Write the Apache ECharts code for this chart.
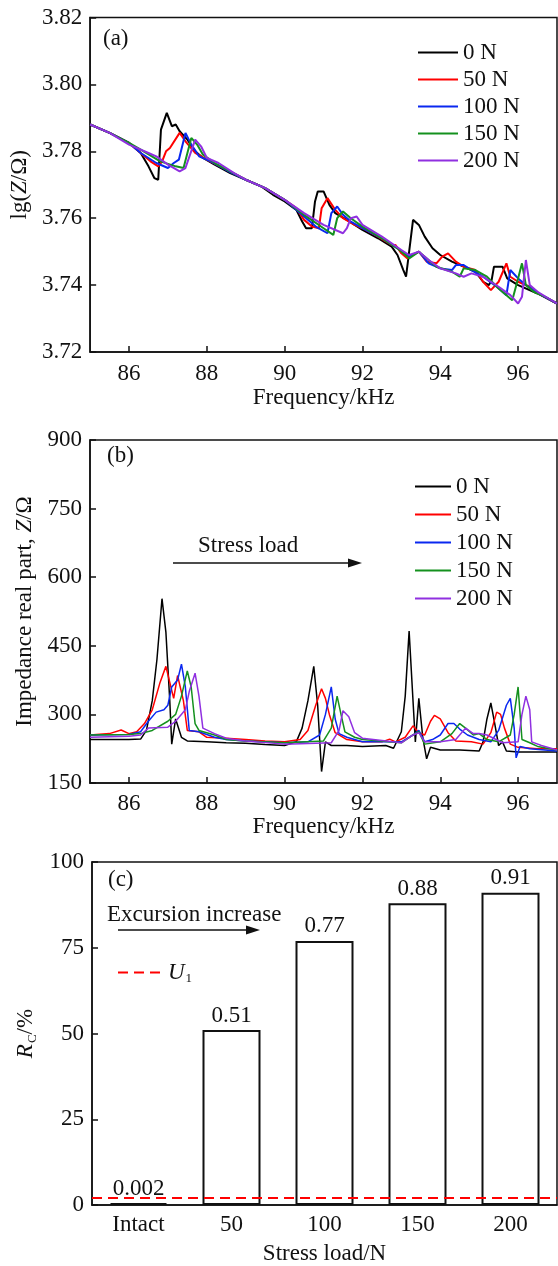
<!DOCTYPE html>
<html>
<head>
<meta charset="utf-8">
<script src="https://cdn.jsdelivr.net/npm/echarts@6/dist/echarts.min.js"></script>
<style>
  html, body { margin: 0; padding: 0; background: #fff; }
  #main { width: 558px; height: 1266px; }
</style>
</head>
<body>
<div id="main"></div>
<script>
// legend names shared by panels (a) and (b)
const loadNames = ['0 N', '50 N', '100 N', '150 N', '200 N'];
const loadColors = ['#000000', '#ff0000', '#0a28f0', '#14911e', '#9030e0'];

// (a) lg(Z/Ω) vs frequency (kHz)
const lg0 = [[85,3.788],[85.5,3.7855],[86,3.7825],[86.3,3.7795],[86.5,3.7755],[86.65,3.772],[86.75,3.7715],[86.82,3.7865],[86.97,3.7915],[87.1,3.7875],[87.2,3.788],[87.3,3.786],[87.5,3.7835],[87.7,3.780],[87.9,3.778],[88.2,3.776],[88.6,3.7735],[89.0,3.7715],[89.4,3.7695],[89.7,3.767],[90.0,3.765],[90.3,3.7625],[90.45,3.759],[90.55,3.757],[90.7,3.757],[90.78,3.765],[90.85,3.768],[91.0,3.768],[91.15,3.764],[91.3,3.7615],[91.6,3.7595],[92.0,3.7565],[92.4,3.754],[92.75,3.7515],[92.9,3.749],[93.05,3.7445],[93.12,3.7425],[93.3,3.7595],[93.45,3.758],[93.6,3.7545],[93.8,3.751],[94.0,3.749],[94.3,3.747],[94.6,3.7455],[94.9,3.744],[95.1,3.741],[95.25,3.740],[95.32,3.7415],[95.38,3.7455],[95.6,3.7455],[95.72,3.742],[96.0,3.740],[96.5,3.7375],[97,3.7345]];
const lg50 = [[85,3.788],[85.5,3.7855],[86,3.7825],[86.3,3.7795],[86.55,3.777],[86.75,3.7755],[86.85,3.777],[86.95,3.780],[87.05,3.781],[87.3,3.7855],[87.45,3.783],[87.7,3.7795],[88.0,3.7775],[88.5,3.7745],[89.0,3.7715],[89.5,3.769],[90.0,3.7655],[90.3,3.763],[90.5,3.7595],[90.7,3.7575],[90.88,3.757],[90.95,3.763],[91.1,3.766],[91.3,3.7625],[91.5,3.760],[91.8,3.758],[92.0,3.757],[92.4,3.7545],[92.75,3.752],[92.85,3.752],[93.0,3.7495],[93.15,3.748],[93.3,3.749],[93.45,3.750],[93.65,3.747],[93.9,3.7465],[94.05,3.7485],[94.2,3.7495],[94.4,3.747],[94.6,3.7455],[94.9,3.7445],[95.1,3.741],[95.3,3.7385],[95.5,3.741],[95.7,3.7465],[95.8,3.7425],[96.0,3.741],[96.3,3.7395],[96.6,3.737],[97,3.7345]];
const lg100 = [[85,3.788],[85.5,3.7855],[86,3.7825],[86.3,3.7795],[86.7,3.7765],[87.0,3.775],[87.15,3.7765],[87.28,3.7775],[87.45,3.7855],[87.6,3.782],[87.8,3.7785],[88.1,3.777],[88.6,3.7738],[89.0,3.7715],[89.5,3.769],[90.0,3.7655],[90.5,3.7605],[90.8,3.7575],[91.1,3.7555],[91.2,3.7615],[91.35,3.7635],[91.5,3.761],[91.7,3.759],[92.0,3.757],[92.5,3.754],[92.9,3.751],[93.2,3.7485],[93.45,3.750],[93.7,3.7465],[94.0,3.745],[94.3,3.7445],[94.4,3.746],[94.6,3.746],[94.8,3.7445],[95.1,3.7425],[95.4,3.740],[95.7,3.737],[95.8,3.7445],[96.0,3.742],[96.2,3.740],[96.6,3.737],[97,3.7345]];
const lg150 = [[85,3.788],[85.5,3.7855],[86,3.7825],[86.3,3.7805],[86.8,3.777],[87.2,3.7755],[87.4,3.775],[87.6,3.784],[87.75,3.782],[87.9,3.779],[88.2,3.7765],[88.6,3.774],[89.0,3.7715],[89.5,3.769],[90.0,3.7655],[90.5,3.761],[91.0,3.757],[91.25,3.755],[91.35,3.760],[91.5,3.762],[91.7,3.760],[92.0,3.7575],[92.5,3.754],[92.9,3.751],[93.2,3.748],[93.45,3.750],[93.9,3.7455],[94.3,3.744],[94.5,3.7425],[94.6,3.745],[94.9,3.7445],[95.2,3.7425],[95.5,3.739],[95.85,3.7355],[96.0,3.742],[96.1,3.7465],[96.2,3.740],[96.4,3.738],[96.7,3.7365],[97,3.7345]];
const lg200 = [[85,3.788],[85.5,3.7855],[86,3.782],[86.5,3.7795],[86.7,3.7785],[87.0,3.776],[87.3,3.774],[87.45,3.775],[87.7,3.7835],[87.85,3.7815],[88.0,3.778],[88.3,3.7765],[88.7,3.7735],[89.0,3.7715],[89.5,3.769],[90.0,3.7655],[90.5,3.7615],[91.0,3.758],[91.5,3.7555],[91.6,3.757],[91.7,3.760],[91.85,3.7605],[92.0,3.758],[92.5,3.7545],[93.0,3.7505],[93.2,3.749],[93.45,3.750],[93.7,3.7475],[94.0,3.745],[94.4,3.7435],[94.6,3.7425],[94.8,3.7435],[95.1,3.7425],[95.5,3.7395],[95.8,3.737],[96.0,3.7345],[96.1,3.7365],[96.2,3.7475],[96.3,3.740],[96.5,3.738],[97,3.7345]];

// (b) impedance real part (Ω) vs frequency (kHz)
const re0 = [[85,245],[85.5,245],[86,245],[86.3,246],[86.45,265],[86.6,330],[86.72,420],[86.85,553],[86.95,480],[87.05,330],[87.1,235],[87.2,290],[87.35,250],[87.5,242],[88.0,240],[88.5,238],[89.0,237],[89.5,234],[90.0,232],[90.3,240],[90.45,270],[90.6,330],[90.75,405],[90.85,320],[90.95,175],[91.05,240],[91.2,232],[91.6,232],[92.0,230],[92.6,232],[92.8,226],[93.0,262],[93.1,340],[93.2,482],[93.3,330],[93.36,240],[93.45,335],[93.55,250],[93.65,203],[93.75,228],[94.0,222],[94.5,222],[95.0,220],[95.1,240],[95.2,290],[95.3,325],[95.4,280],[95.5,232],[95.6,240],[95.7,220],[96.0,218],[96.5,218],[97,218]];
const re50 = [[85,255],[85.5,258],[85.8,266],[86.0,258],[86.2,262],[86.4,280],[86.6,310],[86.8,370],[86.95,405],[87.05,370],[87.15,335],[87.25,385],[87.4,330],[87.5,265],[87.8,262],[88.0,250],[88.5,248],[89.0,245],[89.5,242],[90.0,240],[90.4,245],[90.6,265],[90.8,320],[90.95,356],[91.05,335],[91.15,300],[91.3,260],[91.6,245],[92.0,240],[92.5,240],[92.7,246],[92.85,240],[93.1,250],[93.3,275],[93.45,260],[93.6,255],[93.75,285],[93.85,298],[94.0,290],[94.2,260],[94.4,242],[94.8,240],[95.1,235],[95.3,260],[95.45,305],[95.55,300],[95.65,270],[95.8,235],[96.0,228],[96.5,225],[97,225]];
const re100 = [[85,255],[86,256],[86.3,262],[86.5,285],[86.7,305],[86.9,310],[87.0,320],[87.1,360],[87.25,375],[87.35,410],[87.45,360],[87.55,265],[87.8,262],[88.2,250],[88.5,245],[89.0,242],[90.0,238],[90.6,240],[90.9,255],[91.05,300],[91.2,360],[91.3,290],[91.4,258],[91.6,250],[92.0,240],[93.0,240],[93.3,255],[93.45,265],[93.6,240],[93.8,245],[94.0,255],[94.2,280],[94.35,280],[94.5,268],[94.7,255],[95.0,245],[95.3,240],[95.5,265],[95.7,320],[95.8,335],[95.9,270],[95.95,205],[96.05,230],[96.3,225],[97,220]];
const re150 = [[85,255],[86,256],[86.3,258],[86.6,265],[87.0,285],[87.2,300],[87.35,340],[87.5,395],[87.6,360],[87.7,280],[87.8,265],[88.2,255],[88.5,245],[89.0,242],[90.0,238],[91.0,242],[91.2,270],[91.35,340],[91.45,300],[91.55,262],[91.8,250],[92.0,245],[93.0,238],[93.3,255],[93.45,262],[93.6,235],[94.0,240],[94.3,258],[94.5,280],[94.65,270],[94.85,255],[95.0,258],[95.2,245],[95.5,240],[95.8,255],[95.9,300],[96.0,360],[96.1,245],[96.3,238],[96.5,230],[97,222]];
const re200 = [[85,250],[86,252],[86.3,255],[86.5,270],[87.0,272],[87.2,285],[87.45,310],[87.55,350],[87.7,390],[87.8,340],[87.9,270],[88.2,258],[88.5,248],[89.0,242],[90.0,235],[91.2,238],[91.4,265],[91.5,308],[91.65,295],[91.8,260],[92.0,248],[93.0,238],[93.3,255],[93.45,260],[93.6,240],[94.0,240],[94.4,245],[94.65,270],[94.85,258],[95.0,258],[95.2,255],[95.6,238],[96.0,240],[96.1,300],[96.2,340],[96.3,310],[96.35,240],[96.6,232],[97,222]];

// (c) R_C (%) by stress load
const loadCats = ['Intact', '50', '100', '150', '200'];
const rcValues = [0.2, 51, 77, 88, 91];
const rcLabels = ['0.002', '0.51', '0.77', '0.88', '0.91'];
const u1 = 2;

const freqTicks = [86, 88, 90, 92, 94, 96];

const font = '"Liberation Serif", "Times New Roman", serif';
const ink = '#111';
const red = '#ff0000';
const fs = 23;

const txt = { fontFamily: font, fontSize: fs, color: ink };
const italic = { fontFamily: font, fontSize: fs, fontStyle: 'italic', color: ink };
const sub = { fontFamily: font, fontSize: 13, color: ink, verticalAlign: 'bottom', padding: [12, 0, 0, 1] };

const frameAxisLine = { show: true, onZero: false, lineStyle: { color: ink, width: 1.5 } };
const innerTick = { show: true, inside: true, length: 6, lineStyle: { color: ink, width: 1.5 } };

const freqAxis = (gridIndex, gap, margin) => ({
    type: 'value',
    gridIndex: gridIndex,
    min: 85,
    max: 97,
    name: 'Frequency/kHz',
    nameLocation: 'middle',
    nameGap: gap,
    nameTextStyle: txt,
    axisLine: frameAxisLine,
    axisTick: Object.assign({}, innerTick, { customValues: freqTicks }),
    axisLabel: Object.assign({}, txt, { margin: margin, customValues: freqTicks }),
    splitLine: { show: false }
});

const lineSeries = (list, idx, width) => list.map((d, i) => ({
    type: 'line',
    name: loadNames[i],
    xAxisIndex: idx,
    yAxisIndex: idx,
    data: d,
    symbol: 'none',
    lineStyle: { color: loadColors[i], width: width },
    itemStyle: { color: loadColors[i] },
    z: 2 + i
}));

const loadLegend = (left, top, w, gap) => ({
    data: loadNames,
    orient: 'vertical',
    left: left,
    top: top,
    padding: 0,
    itemWidth: w,
    itemHeight: 22,
    itemGap: gap,
    selectedMode: false,
    itemStyle: { opacity: 0 },
    textStyle: Object.assign({}, txt, { lineHeight: 22 })
});

const arrow = (x1, x2, y) => [
    { type: 'line', shape: { x1: x1, y1: y, x2: x2 - 8, y2: y }, style: { stroke: ink, lineWidth: 1.6 } },
    { type: 'polygon', shape: { points: [[x2 - 14, y - 4.5], [x2, y], [x2 - 14, y + 4.5]] }, style: { fill: ink } }
];

const label = (text, left, top) => ({
    type: 'text', left: left, top: top,
    style: { text: text, font: fs + 'px ' + font, fill: ink }
});

const chart = echarts.init(document.getElementById('main'));
chart.setOption({
    animation: false,
    backgroundColor: '#fff',
    grid: [
        { left: 90, top: 17.5, width: 467, height: 334.5, show: true, borderColor: ink, borderWidth: 1.5 },
        { left: 90, top: 440, width: 467, height: 343, show: true, borderColor: ink, borderWidth: 1.5 },
        { left: 92, top: 862, width: 465, height: 344, show: true, borderColor: ink, borderWidth: 1.5 }
    ],
    legend: [
        loadLegend(417, 41, 40, 4),
        loadLegend(414, 475, 36, 5),
        {
            data: ['U1'],
            left: 117,
            top: 961,
            padding: 0,
            itemWidth: 45,
            itemHeight: 22,
            selectedMode: false,
            itemStyle: { opacity: 0 },
            formatter: () => '{i|U}{s|1}',
            textStyle: Object.assign({}, txt, { rich: { i: italic, s: sub } })
        }
    ],
    xAxis: [
        freqAxis(0, 34, 10),
        freqAxis(1, 31, 9),
        {
            type: 'category',
            gridIndex: 2,
            data: loadCats,
            name: 'Stress load/N',
            nameLocation: 'middle',
            nameGap: 37,
            nameTextStyle: txt,
            axisLine: frameAxisLine,
            axisTick: { show: false },
            axisLabel: Object.assign({}, txt, { margin: 8 })
        }
    ],
    yAxis: [
        {
            type: 'value',
            gridIndex: 0,
            min: 3.72,
            max: 3.82,
            interval: 0.02,
            name: 'lg({i|Z}/Ω)',
            nameLocation: 'middle',
            nameGap: 58,
            nameTextStyle: Object.assign({}, txt, { rich: { i: italic } }),
            axisLine: frameAxisLine,
            axisTick: innerTick,
            axisLabel: Object.assign({}, txt, { margin: 8, formatter: v => v.toFixed(2) }),
            splitLine: { show: false }
        },
        {
            type: 'value',
            gridIndex: 1,
            min: 150,
            max: 900,
            interval: 150,
            name: 'Impedance real part, {i|Z}/Ω',
            nameLocation: 'middle',
            nameGap: 51,
            nameTextStyle: Object.assign({}, txt, { rich: { i: italic } }),
            axisLine: frameAxisLine,
            axisTick: innerTick,
            axisLabel: Object.assign({}, txt, { margin: 8 }),
            splitLine: { show: false }
        },
        {
            type: 'value',
            gridIndex: 2,
            min: 0,
            max: 100,
            interval: 25,
            name: '{i|R}{s|C}/%',
            nameLocation: 'middle',
            nameGap: 42,
            nameTextStyle: Object.assign({}, txt, { rich: { i: italic, s: sub } }),
            axisLine: frameAxisLine,
            axisTick: innerTick,
            axisLabel: Object.assign({}, txt, { margin: 8 }),
            splitLine: { show: false }
        }
    ],
    series: [
        ...lineSeries([lg0, lg50, lg100, lg150, lg200], 0, 2),
        ...lineSeries([re0, re50, re100, re150, re200], 1, 1.5),
        {
            type: 'bar',
            xAxisIndex: 2,
            yAxisIndex: 2,
            data: rcValues,
            barWidth: 58,
            barMinHeight: 2,
            itemStyle: { color: '#fff', borderColor: ink, borderWidth: 2 },
            label: {
                show: true,
                position: 'top',
                distance: 3,
                fontFamily: font,
                fontSize: fs,
                color: ink,
                formatter: p => rcLabels[p.dataIndex]
            },
            markLine: {
                silent: true,
                symbol: ['none', 'none'],
                label: { show: false },
                lineStyle: { color: red, width: 2, type: [10, 6] },
                data: [{ yAxis: u1 }]
            }
        },
        {
            // legend entry only for the U1 threshold line
            type: 'line',
            name: 'U1',
            xAxisIndex: 2,
            yAxisIndex: 2,
            data: [],
            symbol: 'none',
            lineStyle: { color: red, width: 2, type: [10, 6] },
            itemStyle: { color: red }
        }
    ],
    graphic: [
        label('(a)', 103, 27),
        label('(b)', 107, 444),
        label('(c)', 108, 868),
        label('Stress load', 198, 534),
        ...arrow(173, 362, 563),
        label('Excursion increase', 107, 903),
        ...arrow(118, 260, 930)
    ]
});
</script>
</body>
</html>
